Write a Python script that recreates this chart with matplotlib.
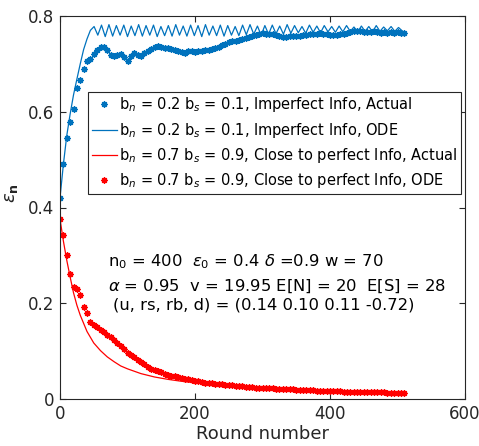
import numpy as np
import matplotlib
matplotlib.use('Agg')
import matplotlib.pyplot as plt

plt.rcParams['font.family'] = ['DejaVu Sans']
plt.rcParams['mathtext.fontset'] = 'dejavusans'

blue = '#0072BD'
red = '#FF0000'

# Imperfect info, actual (every 5 rounds, from round 0)
blue_actual = [0.420, 0.490, 0.545, 0.578, 0.605, 0.650, 0.666, 0.690, 0.705, 0.710,
               0.720, 0.730, 0.735, 0.735, 0.730, 0.718, 0.717, 0.719, 0.720, 0.715,
               0.707, 0.717, 0.722, 0.718, 0.716, 0.723, 0.727, 0.731, 0.735, 0.738,
               0.736, 0.734, 0.733, 0.731, 0.729, 0.727, 0.725, 0.723, 0.727, 0.726,
               0.724, 0.727, 0.726, 0.728, 0.729, 0.731, 0.734, 0.735, 0.739, 0.742,
               0.745, 0.747, 0.748, 0.750, 0.752, 0.754, 0.756, 0.759, 0.761, 0.763,
               0.764, 0.763, 0.762, 0.762, 0.761, 0.759, 0.757, 0.757, 0.758, 0.759,
               0.758, 0.759, 0.760, 0.761, 0.762, 0.762, 0.763, 0.764, 0.763, 0.762,
               0.761, 0.760, 0.761, 0.762, 0.763, 0.764, 0.766, 0.768, 0.769, 0.768,
               0.767, 0.766, 0.767, 0.768, 0.766, 0.765, 0.766, 0.765, 0.766, 0.765,
               0.766, 0.765, 0.765]
blue_actual_rounds = np.arange(len(blue_actual)) * 5

# Imperfect info, ODE: rise then zig-zag
blue_ode_rise_rounds = [0, 5, 10, 15, 20, 25, 30, 35, 40, 45]
blue_ode_rise = [0.420, 0.490, 0.550, 0.595, 0.635, 0.668, 0.700, 0.730, 0.752, 0.770]
blue_ode_peaks = [0.778, 0.781, 0.782, 0.780, 0.781, 0.779, 0.782, 0.780, 0.781, 0.778,
                  0.780, 0.782, 0.779, 0.781, 0.780, 0.782, 0.779, 0.781, 0.780, 0.778,
                  0.781, 0.782, 0.779, 0.780, 0.781, 0.779, 0.782, 0.780, 0.778, 0.781,
                  0.779, 0.780, 0.778, 0.779, 0.780, 0.777, 0.779, 0.778, 0.780, 0.777,
                  0.778, 0.776]
blue_ode_troughs = [0.760, 0.757, 0.758, 0.760, 0.757, 0.759, 0.758, 0.760, 0.757, 0.759,
                    0.758, 0.760, 0.758, 0.759, 0.757, 0.760, 0.759, 0.758, 0.760, 0.759,
                    0.761, 0.762, 0.760, 0.762, 0.763, 0.762, 0.764, 0.765, 0.764, 0.766,
                    0.765, 0.767, 0.766, 0.767, 0.768, 0.767, 0.768, 0.767, 0.768, 0.769,
                    0.768, 0.769]
zig = [v for pair in zip(blue_ode_peaks, blue_ode_troughs) for v in pair]
zig_rounds = 45 + 5.5 * np.arange(1, len(zig) + 1)
blue_ode_rounds = np.concatenate([blue_ode_rise_rounds, zig_rounds])
blue_ode = np.concatenate([blue_ode_rise, zig])

# Close to perfect info, actual (every 5 rounds)
red_actual = [0.376, 0.343, 0.300, 0.262, 0.234, 0.230, 0.217, 0.193, 0.179, 0.160,
              0.155, 0.150, 0.145, 0.140, 0.134, 0.129, 0.123, 0.117, 0.111, 0.105,
              0.097, 0.091, 0.087, 0.082, 0.078, 0.073, 0.067, 0.063, 0.060, 0.058,
              0.056, 0.053, 0.051, 0.049, 0.047, 0.045, 0.043, 0.042, 0.041, 0.039,
              0.038, 0.037, 0.035, 0.034, 0.033, 0.033, 0.032, 0.031, 0.031, 0.030,
              0.029, 0.029, 0.028, 0.027, 0.027, 0.026, 0.025, 0.025, 0.024, 0.024,
              0.023, 0.023, 0.022, 0.022, 0.021, 0.021, 0.021, 0.020, 0.020, 0.020,
              0.019, 0.019, 0.019, 0.018, 0.018, 0.018, 0.017, 0.017, 0.017, 0.017,
              0.016, 0.016, 0.016, 0.016, 0.015, 0.015, 0.015, 0.015, 0.015, 0.015,
              0.014, 0.014, 0.014, 0.014, 0.014, 0.014, 0.014, 0.013, 0.013, 0.013,
              0.013, 0.013, 0.013]
red_actual_rounds = np.arange(len(red_actual)) * 5

# Close to perfect info, ODE
red_ode_rounds = [0, 5, 10, 15, 20, 25, 30, 40, 50, 60, 70, 80, 90, 100, 120, 140,
                  160, 180, 200, 250, 300, 350, 400, 450, 510]
red_ode = [0.376, 0.330, 0.290, 0.255, 0.222, 0.196, 0.175, 0.141, 0.117, 0.101,
           0.088, 0.078, 0.069, 0.063, 0.053, 0.046, 0.041, 0.037, 0.034, 0.028,
           0.023, 0.020, 0.017, 0.015, 0.013]

labels = [r'b$_n$ = 0.2 b$_s$ = 0.1, Imperfect Info, Actual',
          r'b$_n$ = 0.2 b$_s$ = 0.1, Imperfect Info, ODE',
          r'b$_n$ = 0.7 b$_s$ = 0.9, Close to perfect Info, Actual',
          r'b$_n$ = 0.7 b$_s$ = 0.9, Close to perfect Info, ODE']

fig = plt.figure(figsize=(4.79, 4.46), dpi=100)
ax = fig.add_axes([60 / 479, 47 / 446, 405 / 479, 383 / 446])

star = (8, 2, 0)
ax.plot(blue_actual_rounds, blue_actual, linestyle='none', marker=star, color=blue,
        markersize=4.5, markeredgewidth=1.0, label=labels[0])
ax.plot(blue_ode_rounds, blue_ode, color=blue, linewidth=0.9, label=labels[1])
ax.plot(red_ode_rounds, red_ode, color=red, linewidth=0.9, label=labels[2])
ax.plot(red_actual_rounds, red_actual, linestyle='none', marker=star, color=red,
        markersize=4.5, markeredgewidth=1.0, label=labels[3])

ax.set_xlim(0, 600)
ax.set_ylim(0, 0.8)
ax.set_xticks([0, 200, 400, 600])
ax.set_yticks([0, 0.2, 0.4, 0.6, 0.8])
ax.set_yticklabels(['0', '0.2', '0.4', '0.6', '0.8'])
ax.tick_params(direction='in', top=True, right=True, length=4, width=0.8,
               labelsize=12, colors='#262626', pad=4)
for s in ax.spines.values():
    s.set_color('#262626')
    s.set_linewidth(0.8)

ax.set_xlabel('Round number', fontsize=13, color='#262626', labelpad=2)
ax.set_ylabel(r'$\epsilon_{\mathbf{n}}$', fontsize=13, color='#262626')
ax.yaxis.set_label_coords(-0.1, 0.538)

ax.text(71, 0.287, r'n$_0$ = 400  $\epsilon_0$ = 0.4 $\delta$ =0.9 w = 70',
        fontsize=11.8, va='center', ha='left')
ax.text(71, 0.235, r'$\alpha$ = 0.95  v = 19.95 E[N] = 20  E[S] = 28',
        fontsize=11.8, va='center', ha='left')
ax.text(78, 0.197, '(u, rs, rb, d) = (0.14 0.10 0.11 -0.72)',
        fontsize=11.8, va='center', ha='left')

leg = ax.legend(loc='upper right', bbox_to_anchor=(0.99, 0.802), borderaxespad=0,
                fontsize=10.5, fancybox=False, framealpha=1, edgecolor='#262626',
                handlelength=1.7, handletextpad=0.15, borderpad=0.25,
                labelspacing=0.42, markerscale=1.0)
leg.get_frame().set_linewidth(0.8)

plt.savefig('out.png', dpi=100)
